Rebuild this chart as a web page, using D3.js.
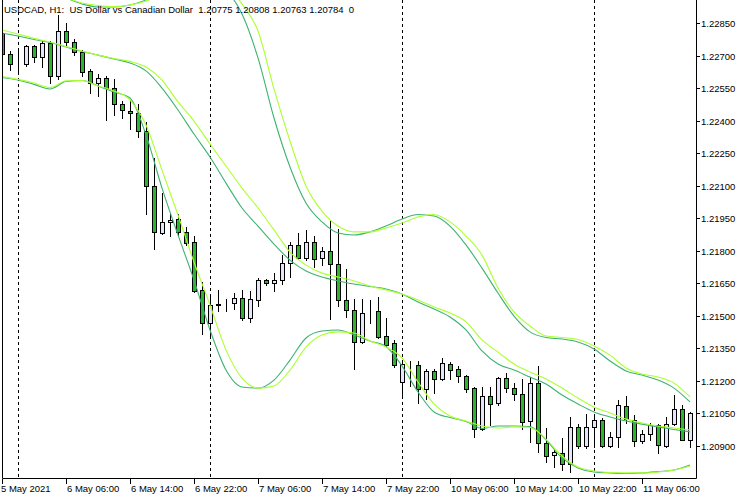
<!DOCTYPE html>
<html><head><meta charset="utf-8">
<script src="https://cdn.jsdelivr.net/npm/d3@7"></script>
<style>
body{margin:0;background:#fff}
svg{display:block}
text{font-family:"Liberation Sans",Arial,sans-serif;font-size:9.5px;fill:#000;white-space:pre}
</style>
</head><body>
<svg id="chart" width="750" height="500"></svg>
<script>
// ---- data (USDCAD H1) ----
const title = "USDCAD, H1:  US Dollar vs Canadian Dollar  1.20775 1.20808 1.20763 1.20784  0";
const opens  = [1.22804,1.22707,1.22656,1.22661,1.22744,1.22693,1.22758,1.22606,1.22813,1.22762,1.22716,1.22629,1.22573,1.22596,1.22550,1.22477,1.22444,1.22435,1.22352,1.22099,1.21882,1.21933,1.21946,1.21887,1.21840,1.21619,1.21467,1.21555,1.21557,1.21559,1.21582,1.21490,1.21573,1.21665,1.21651,1.21665,1.21744,1.21827,1.21767,1.21840,1.21767,1.21799,1.21739,1.21573,1.21527,1.21379,1.21518,1.21522,1.21407,1.21375,1.21195,1.21269,1.21273,1.21163,1.21246,1.21209,1.21278,1.21255,1.21223,1.21167,1.20978,1.21131,1.21098,1.21213,1.21167,1.21140,1.21015,1.21190,1.20914,1.20859,1.20868,1.20817,1.20988,1.20900,1.20988,1.21020,1.20900,1.20941,1.21084,1.21020,1.20923,1.20955,1.20997,1.20900,1.21001,1.21071,1.20928];
const highs  = [1.22818,1.22721,1.22730,1.22749,1.22749,1.22767,1.22767,1.22887,1.22850,1.22776,1.22726,1.22638,1.22615,1.22606,1.22592,1.22490,1.22495,1.22477,1.22394,1.22228,1.22066,1.21974,1.21969,1.21910,1.21868,1.21656,1.21587,1.21619,1.21578,1.21605,1.21619,1.21615,1.21674,1.21670,1.21697,1.21780,1.21840,1.21882,1.21896,1.21868,1.21817,1.21937,1.21900,1.21716,1.21578,1.21578,1.21573,1.21587,1.21490,1.21389,1.21296,1.21292,1.21292,1.21255,1.21255,1.21306,1.21287,1.21269,1.21227,1.21172,1.21172,1.21172,1.21218,1.21236,1.21190,1.21209,1.21218,1.21269,1.20983,1.20882,1.20937,1.21034,1.21001,1.21047,1.21047,1.21029,1.20965,1.21112,1.21130,1.21043,1.20974,1.21006,1.21001,1.21034,1.21135,1.21089,1.21057];
const lows   = [1.22698,1.22633,1.22629,1.22652,1.22670,1.22647,1.22573,1.22592,1.22749,1.22702,1.22606,1.22527,1.22513,1.22403,1.22426,1.22412,1.22361,1.22324,1.21969,1.21808,1.21877,1.21868,1.21873,1.21827,1.21610,1.21416,1.21398,1.21522,1.21522,1.21532,1.21481,1.21472,1.21545,1.21642,1.21615,1.21647,1.21679,1.21762,1.21757,1.21725,1.21734,1.21485,1.21545,1.21495,1.21255,1.21375,1.21467,1.21398,1.21356,1.21264,1.21135,1.21177,1.21098,1.21117,1.21144,1.21204,1.21209,1.21195,1.21149,1.20941,1.20974,1.20997,1.21089,1.21149,1.21112,1.20978,1.20918,1.20872,1.20826,1.20803,1.20789,1.20780,1.20891,1.20891,1.20895,1.20895,1.20895,1.20895,1.21006,1.20900,1.20914,1.20928,1.20868,1.20895,1.20997,1.20928,1.20895];
const closes = [1.22707,1.22661,1.22655,1.22744,1.22693,1.22758,1.22606,1.22813,1.22762,1.22716,1.22624,1.22573,1.22596,1.22550,1.22477,1.22449,1.22435,1.22352,1.22099,1.21887,1.21933,1.21942,1.21887,1.21836,1.21615,1.21467,1.21550,1.21550,1.21559,1.21582,1.21490,1.21578,1.21665,1.21651,1.21665,1.21744,1.21827,1.21767,1.21840,1.21762,1.21799,1.21739,1.21573,1.21527,1.21379,1.21513,1.21520,1.21403,1.21366,1.21273,1.21278,1.21271,1.21163,1.21246,1.21209,1.21282,1.21250,1.21223,1.21163,1.20978,1.21131,1.21094,1.21213,1.21167,1.21140,1.21011,1.21190,1.20914,1.20854,1.20872,1.20817,1.20988,1.20900,1.20988,1.21020,1.20900,1.20941,1.21089,1.21024,1.20923,1.20955,1.20997,1.20905,1.21001,1.21071,1.20928,1.21052];

// band samples (every 2nd bar)
const bandIdx = [0,2,4,6,8,10,12,14,16,18,20,22,24,26,28,30,32,34,36,38,40,42,44,46,48,50,52,54,56,58,60,62,64,66,68,70,72,74,76,78,80,82,84,86];
const sgUpper  = [1.23071,1.23039,1.23011,1.22988,1.22965,1.22938,1.22924,1.22924,1.22933,1.22956,1.22993,1.23025,1.23048,1.23048,1.23002,1.22891,1.22689,1.22412,1.22186,1.22020,1.21933,1.21882,1.21873,1.21887,1.21914,1.21946,1.21967,1.21960,1.21914,1.21827,1.21720,1.21605,1.21499,1.21426,1.21400,1.21393,1.21379,1.21347,1.21292,1.21246,1.21227,1.21204,1.21167,1.21103];
const sgMiddle = [1.22804,1.22790,1.22774,1.22760,1.22739,1.22719,1.22702,1.22684,1.22666,1.22629,1.22550,1.22449,1.22338,1.22232,1.22112,1.21997,1.21914,1.21831,1.21757,1.21707,1.21679,1.21661,1.21647,1.21635,1.21624,1.21601,1.21564,1.21532,1.21495,1.21435,1.21338,1.21278,1.21250,1.21218,1.21186,1.21135,1.21094,1.21057,1.21034,1.21015,1.21001,1.20988,1.20976,1.20965];
const sgLower  = [1.22599,1.22587,1.22567,1.22546,1.22580,1.22585,1.22560,1.22532,1.22504,1.22334,1.22089,1.21873,1.21665,1.21435,1.21250,1.21172,1.21167,1.21204,1.21296,1.21398,1.21430,1.21435,1.21412,1.21384,1.21359,1.21269,1.21149,1.21057,1.21031,1.21013,1.20981,1.20992,1.20992,1.20990,1.20928,1.20845,1.20799,1.20780,1.20776,1.20773,1.20776,1.20782,1.20789,1.20812];
const gyUpper  = [1.23071,1.23039,1.23011,1.22988,1.22965,1.22942,1.22931,1.22926,1.22933,1.22951,1.22984,1.23016,1.23048,1.23057,1.23021,1.22938,1.22813,1.22546,1.22306,1.22099,1.21983,1.21914,1.21887,1.21887,1.21905,1.21928,1.21956,1.21967,1.21933,1.21868,1.21780,1.21628,1.21518,1.21453,1.21407,1.21400,1.21391,1.21361,1.21319,1.21260,1.21232,1.21218,1.21190,1.21126];
const gyMiddle = [1.22818,1.22799,1.22779,1.22762,1.22742,1.22721,1.22702,1.22686,1.22673,1.22647,1.22587,1.22486,1.22398,1.22292,1.22191,1.22089,1.21997,1.21896,1.21794,1.21734,1.21697,1.21679,1.21661,1.21638,1.21619,1.21601,1.21573,1.21541,1.21513,1.21472,1.21389,1.21333,1.21278,1.21241,1.21209,1.21167,1.21121,1.21080,1.21052,1.21024,1.21006,1.20992,1.20983,1.20974];
const gyLower  = [1.22603,1.22590,1.22573,1.22553,1.22583,1.22585,1.22560,1.22537,1.22495,1.22380,1.22172,1.21965,1.21748,1.21550,1.21343,1.21213,1.21167,1.21177,1.21250,1.21356,1.21412,1.21426,1.21421,1.21384,1.21356,1.21306,1.21195,1.21094,1.21038,1.21015,1.20992,1.20983,1.20988,1.20985,1.20932,1.20854,1.20803,1.20785,1.20778,1.20776,1.20776,1.20780,1.20789,1.20808];

const yTicks = [1.20900,1.21050,1.21200,1.21350,1.21500,1.21650,1.21800,1.21950,1.22100,1.22250,1.22400,1.22550,1.22700,1.22850];
const xTickIdx = [0,8,16,24,32,40,48,56,64,72,80];
const xTickLabels = ["5 May 2021","6 May 06:00","6 May 14:00","6 May 22:00","7 May 06:00","7 May 14:00","7 May 22:00","10 May 06:00","10 May 14:00","10 May 22:00","11 May 06:00"];

// bar times (hourly, weekend skipped) -> used for day separators
const times = [];
{ let t = Date.UTC(2021,4,5,22);
  while (times.length < opens.length) {
    const d = new Date(t).getUTCDay();
    if (d !== 0 && d !== 6) times.push(t);
    t += 3600e3;
  } }

// ---- layout ----
const W = 750, H = 500;
const plot = {left: 2, right: 696, top: 0, bottom: 478};
const svg = d3.select("#chart");

const x = d3.scaleLinear().domain([0, 86]).range([2, 690]);
const y = d3.scaleLinear().domain([1.209, 1.2285]).range([446, 23]);

svg.append("rect").attr("width", W).attr("height", H).attr("fill", "#fff");

svg.append("clipPath").attr("id", "clip").append("rect")
  .attr("x", plot.left).attr("y", plot.top)
  .attr("width", plot.right - plot.left).attr("height", plot.bottom - plot.top);

const g = svg.append("g").attr("clip-path", "url(#clip)");

// day separators
const sepIdx = times.map((t, i) => new Date(t).getUTCHours() === 0 ? i : -1).filter(i => i >= 0);
g.selectAll("line.sep").data(sepIdx).join("line")
  .attr("class", "sep")
  .attr("x1", i => Math.round(x(i)) + 0.5).attr("x2", i => Math.round(x(i)) + 0.5)
  .attr("y1", plot.top).attr("y2", plot.bottom)
  .attr("stroke", "#000").attr("stroke-width", 1).attr("stroke-dasharray", "3,3");

// candles
const bars = opens.map((o, i) => ({i, o, h: highs[i], l: lows[i], c: closes[i]}));
const cg = g.selectAll("g.c").data(bars).join("g").attr("class", "c");
cg.append("line")
  .attr("x1", d => Math.round(x(d.i)) + 0.5).attr("x2", d => Math.round(x(d.i)) + 0.5)
  .attr("y1", d => Math.round(y(d.h))).attr("y2", d => Math.round(y(d.l)) + 1)
  .attr("stroke", "#000").attr("stroke-width", 1).attr("shape-rendering", "crispEdges");
cg.append("rect")
  .attr("x", d => Math.round(x(d.i)) - 1.5)
  .attr("width", 4)
  .attr("y", d => Math.round(y(Math.max(d.o, d.c))) + 0.5)
  .attr("height", d => Math.max(0, Math.round(y(Math.min(d.o, d.c))) - Math.round(y(Math.max(d.o, d.c)))))
  .attr("fill", d => d.c < d.o ? "#2DB52D" : "#E6E6FA")
  .attr("stroke", "#000").attr("stroke-width", 1);

// bands
const line = d3.line().x(d => x(d[0])).y(d => y(d[1])).curve(d3.curveMonotoneX);
const bands = [
  {v: sgUpper, c: "#3CB371"}, {v: sgMiddle, c: "#3CB371"}, {v: sgLower, c: "#3CB371"},
  {v: gyUpper, c: "#ADFF2F"}, {v: gyMiddle, c: "#ADFF2F"}, {v: gyLower, c: "#ADFF2F"}
];
g.selectAll("path.band").data(bands).join("path")
  .attr("class", "band")
  .attr("d", b => line(bandIdx.map((k, j) => [k, b.v[j]])))
  .attr("fill", "none").attr("stroke", b => b.c).attr("stroke-width", 1.1);

// frame
svg.append("path")
  .attr("d", `M${plot.left + 0.5},${plot.top}V${plot.bottom + 0.5}H${plot.right + 0.5}V${plot.top}`)
  .attr("fill", "none").attr("stroke", "#000").attr("stroke-width", 1);

// y axis (right)
const ya = svg.append("g");
ya.selectAll("line").data(yTicks).join("line")
  .attr("x1", plot.right + 1).attr("x2", plot.right + 4)
  .attr("y1", d => Math.round(y(d)) + 0.5).attr("y2", d => Math.round(y(d)) + 0.5)
  .attr("stroke", "#000");
ya.selectAll("text").data(yTicks).join("text")
  .attr("x", plot.right + 5).attr("y", d => Math.round(y(d)) + 4)
  .text(d => d3.format(".5f")(d));

// x axis
const xa = svg.append("g");
xa.selectAll("line").data(xTickIdx).join("line")
  .attr("x1", i => Math.round(x(i)) + 0.5).attr("x2", i => Math.round(x(i)) + 0.5)
  .attr("y1", plot.bottom + 1).attr("y2", plot.bottom + 6)
  .attr("stroke", "#000");
xa.selectAll("text").data(xTickIdx).join("text")
  .attr("x", (i, k) => k === 0 ? 1 : Math.round(x(i)) + 1)
  .attr("y", 492)
  .text((i, k) => xTickLabels[k]);

// title
svg.append("text").attr("x", 4).attr("y", 13).text(title);
</script>
</body></html>
